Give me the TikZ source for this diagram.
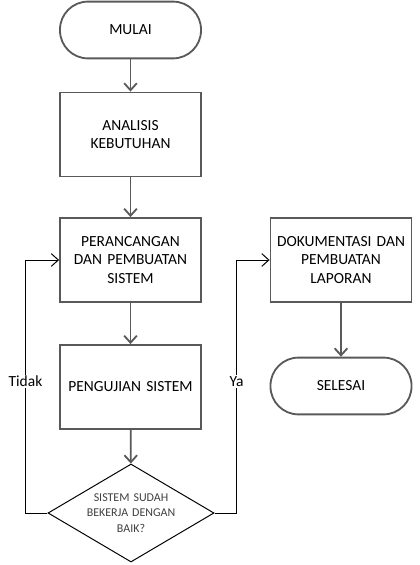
\documentclass[tikz,border=0pt]{standalone}
\usepackage{fontspec}
\setmainfont{Carlito}
\usetikzlibrary{shapes.geometric,arrows.meta}

\definecolor{garis}{RGB}{89,89,89}

\tikzset{
  proses/.style={draw=garis, line width=1.3pt, minimum width=3.525cm, minimum height=2.1cm,
    align=center, text width=3.2cm, font=\fontsize{11}{13}\selectfont},
  terminal/.style={draw=garis, line width=1.3pt, rounded corners=0.7cm, minimum width=3.525cm,
    minimum height=1.42cm, font=\fontsize{11}{13}\selectfont},
  keputusan/.style={diamond, draw=black, line width=0.7pt, aspect=1.7, inner sep=0pt,
    minimum width=4.15cm, minimum height=2.45cm, align=center, text width=2.3cm,
    font=\fontsize{8.5}{11}\selectfont, text=black!75},
  alur/.style={draw=garis, line width=1.3pt, -{Straight Barb[length=5pt,width=9pt]}},
  balik/.style={draw=black, line width=0.7pt, -{Straight Barb[length=5pt,width=9pt]}},
  ket/.style={fill=white, inner sep=1pt, font=\fontsize{11}{13}\selectfont}
}

\begin{document}
\begin{tikzpicture}[x=0.025cm, y=-0.025cm]
        \useasboundingbox (0,0) rectangle (420,565);

        \node[terminal] (mulai) at (130.5,30) {MULAI};
        \node[proses] (analisis) at (130.5,134.5) {ANALISIS\\KEBUTUHAN};
        \node[proses] (rancang) at (130.5,260) {PERANCANGAN\\DAN PEMBUATAN\\SISTEM};
        \node[proses] (uji) at (130.5,387) {PENGUJIAN SISTEM};
        \node[keputusan] (cek) at (131,513) {SISTEM SUDAH\\BEKERJA DENGAN\\BAIK?};
        \node[proses] (dokumen) at (341,260) {DOKUMENTASI DAN\\PEMBUATAN\\LAPORAN};
        \node[terminal] (selesai) at (341,386) {SELESAI};

        \draw[alur] (mulai) -- (analisis);
        \draw[alur] (analisis) -- (rancang);
        \draw[alur] (rancang) -- (uji);
        \draw[alur] (uji) -- (cek);
        \draw[alur] (dokumen) -- (selesai);

        % jalur kembali dan lanjut
        \draw[balik] (cek.west) -- ++(-22,0) |- node[ket, pos=0.26] (tidak) {Tidak} (rancang.west);
        \draw[balik] (cek.east) -- ++(22,0) |- node[ket, pos=0.26] (ya) {Ya} (dokumen.west);
\end{tikzpicture}
\end{document}
